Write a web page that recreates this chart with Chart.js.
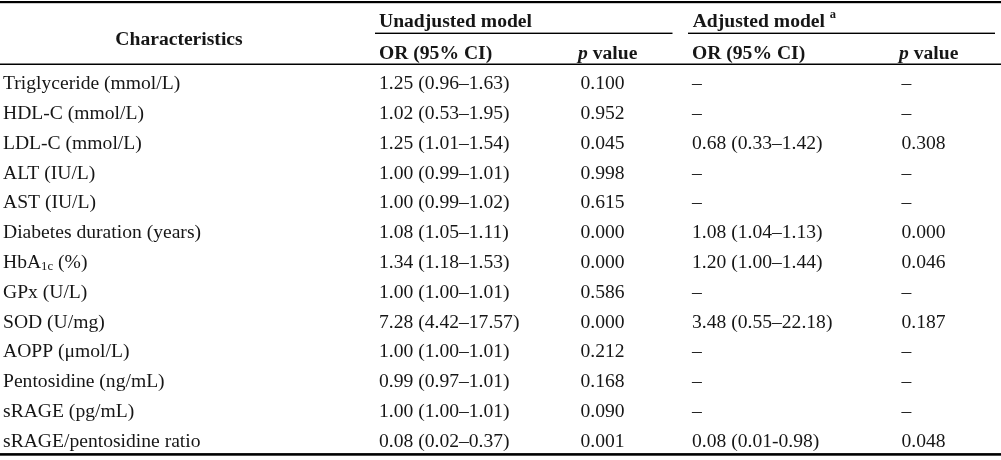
<!DOCTYPE html>
<html>
<head>
<meta charset="utf-8">
<script src="https://cdn.jsdelivr.net/npm/chart.js@4.4.1/dist/chart.umd.min.js"></script>
<style>
  html, body { margin: 0; padding: 0; background: #ffffff; }
  canvas { display: block; }
</style>
</head>
<body>
<canvas id="c" width="1001" height="460"></canvas>
<script>
// ---------- DATA ----------
const characteristics = [
  "Triglyceride (mmol/L)", "HDL-C (mmol/L)", "LDL-C (mmol/L)", "ALT (IU/L)", "AST (IU/L)",
  "Diabetes duration (years)", "HbA_{1c} (%)", "GPx (U/L)", "SOD (U/mg)", "AOPP (μmol/L)",
  "Pentosidine (ng/mL)", "sRAGE (pg/mL)", "sRAGE/pentosidine ratio"
];
const unadjustedOR = [
  "1.25 (0.96–1.63)", "1.02 (0.53–1.95)", "1.25 (1.01–1.54)", "1.00 (0.99–1.01)", "1.00 (0.99–1.02)",
  "1.08 (1.05–1.11)", "1.34 (1.18–1.53)", "1.00 (1.00–1.01)", "7.28 (4.42–17.57)", "1.00 (1.00–1.01)",
  "0.99 (0.97–1.01)", "1.00 (1.00–1.01)", "0.08 (0.02–0.37)"
];
const unadjustedP = [
  "0.100", "0.952", "0.045", "0.998", "0.615", "0.000", "0.000", "0.586", "0.000", "0.212", "0.168", "0.090", "0.001"
];
const adjustedOR = [
  "–", "–", "0.68 (0.33–1.42)", "–", "–", "1.08 (1.04–1.13)", "1.20 (1.00–1.44)", "–",
  "3.48 (0.55–22.18)", "–", "–", "–", "0.08 (0.01-0.98)"
];
const adjustedP = [
  "–", "–", "0.308", "–", "–", "0.000", "0.046", "–", "0.187", "–", "–", "–", "0.048"
];
const firstHeader = "Characteristics";
const groupHeaders = ["Unadjusted model", "Adjusted model ^{a}"];
const columnHeaders = ["OR (95% CI)", "*p* value", "OR (95% CI)", "*p* value"];

// ---------- LAYOUT (not data) ----------
const FONT = '"Liberation Serif", "Times New Roman", serif';
const SIZE = 19.6;
const COL_X = [3, 379, 580.5, 692, 901.5];      // left edge of each column
const TEXT = '#161616';

// rich text: _{sub} ^{sup} *italic*
function drawRich(ctx, str, x, y, bold, align) {
  const parts = str.split(/(_\{[^}]*\}|\^\{[^}]*\}|\*[^*]*\*)/).filter(s => s.length);
  const segs = parts.map(p => {
    if (p.startsWith('_{')) return {t: p.slice(2, -1), size: 12.8, dy: 2.2, italic: false};
    if (p.startsWith('^{')) return {t: p.slice(2, -1), size: 12.5, dy: -8.7, italic: false};
    if (p.startsWith('*')) return {t: p.slice(1, -1), size: SIZE, dy: 0, italic: true};
    return {t: p, size: SIZE, dy: 0, italic: false};
  });
  const fontOf = s => (s.italic ? 'italic ' : '') + (bold ? 'bold ' : '') + s.size + 'px ' + FONT;
  let total = 0;
  segs.forEach(s => { ctx.font = fontOf(s); s.w = ctx.measureText(s.t).width; total += s.w; });
  let cx = align === 'center' ? x - total / 2 : x;
  ctx.textAlign = 'left';
  ctx.textBaseline = 'alphabetic';
  segs.forEach(s => { ctx.font = fontOf(s); ctx.fillText(s.t, cx, y + s.dy); cx += s.w; });
}

const columns = [characteristics, unadjustedOR, unadjustedP, adjustedOR, adjustedP];

const tablePlugin = {
  id: 'tableText',
  beforeDraw(chart) {
    const ctx = chart.ctx;
    const area = chart.chartArea;
    ctx.save();
    ctx.fillStyle = '#ffffff';
    ctx.fillRect(0, 0, chart.width, chart.height);
    ctx.fillStyle = '#000000';
    // rules
    ctx.fillRect(0, 1, chart.width, 2.2);                  // top rule
    ctx.fillRect(375, 32.6, 297.5, 1.4);                   // unadjusted group underline
    ctx.fillRect(688, 32.6, 307, 1.4);                     // adjusted group underline
    ctx.fillRect(0, area.top - 4, chart.width, 1.5);      // header bottom rule
    ctx.fillRect(0, area.bottom - 2.2, chart.width, 2.6);  // bottom rule
    // headers
    ctx.fillStyle = TEXT;
    drawRich(ctx, firstHeader, 179, 45, true, 'center');
    drawRich(ctx, groupHeaders[0], COL_X[1], 27, true, 'left');
    drawRich(ctx, groupHeaders[1], COL_X[3] + 0.7, 27, true, 'left');
    columnHeaders.forEach((h, i) => {
      const dx = h.startsWith('*') ? -2.5 : 0;
      drawRich(ctx, h, COL_X[i + 1] + dx, 59.4, true, 'left');
    });
    ctx.restore();
  },
  afterDatasetsDraw(chart) {
    const ctx = chart.ctx;
    ctx.save();
    ctx.fillStyle = TEXT;
    chart.data.datasets.forEach((ds, di) => {
      const meta = chart.getDatasetMeta(di);
      meta.data.forEach((pt, i) => {
        drawRich(ctx, ds.cellText[i], pt.x, pt.y + 6.6, false, 'left');
      });
    });
    ctx.restore();
  }
};

const datasets = columns.map((col, c) => ({
  label: 'col' + c,
  data: col.map((_, i) => ({x: COL_X[c], y: characteristics[i]})),
  cellText: col,
  pointRadius: 0,
  pointHoverRadius: 0,
  showLine: false
}));

new Chart(document.getElementById('c'), {
  type: 'scatter',
  data: { datasets },
  options: {
    responsive: false,
    animation: false,
    devicePixelRatio: 1,
    layout: { padding: { top: 67.5, bottom: 4.7, left: 0, right: 0 } },
    plugins: { legend: { display: false }, tooltip: { enabled: false } },
    events: [],
    scales: {
      x: { type: 'linear', min: 0, max: 1001, display: false },
      y: { type: 'category', labels: characteristics, offset: true, display: false }
    }
  },
  plugins: [tablePlugin]
});
</script>
</body>
</html>
